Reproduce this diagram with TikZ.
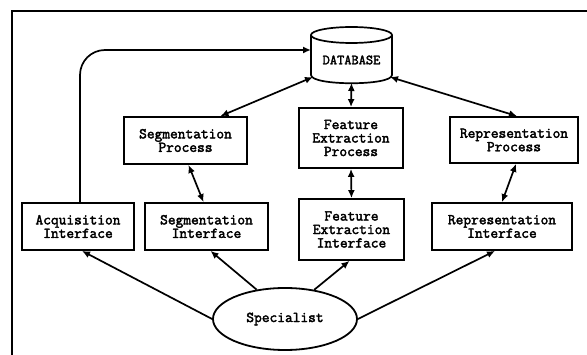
\documentclass[tikz,border=0pt]{standalone}
\usepackage{fontspec}
\setmonofont[AutoFakeBold=2.5]{Latin Modern Mono}
\usetikzlibrary{arrows.meta,shapes.geometric}
\begin{document}
\begin{tikzpicture}[x=1pt,y=-1pt,
  every node/.style={font=\fontsize{15pt}{13.5pt}\selectfont\ttfamily\bfseries, align=center, inner sep=0pt},
  procbox/.style={draw, line width=1.8pt, rectangle},
  link/.style={line width=1.7pt},
  tip/.style={-{Latex[length=8pt,width=7pt]}},
  both/.style={{Latex[length=8pt,width=7pt]}-{Latex[length=8pt,width=7pt]}}]
\useasboundingbox (0,0) rectangle (587,355);
% outer frame (top and left edges)
\draw[line width=1.4pt] (12,355) -- (12,11) -- (587,11);

% database cylinder
\draw[line width=1.7pt] (351.5,35) ellipse [x radius=40.5, y radius=8];
\draw[line width=1.7pt] (311,35) -- (311,75) .. controls (311,86) and (392,86) .. (392,75) -- (392,35);
\node[font=\fontsize{14pt}{14pt}\selectfont\ttfamily\bfseries] (db) at (351.5,60) {DATABASE};
\coordinate (dbL) at (311,50);
\coordinate (dbSW) at (313,77);
\coordinate (dbS) at (351.5,83);
\coordinate (dbSE) at (390,77);

% process boxes
\node[procbox, minimum width=123, minimum height=47] (segp) at (185.5,140.5) {Segmentation\\Process};
\node[procbox, minimum width=104, minimum height=60] (fep) at (351,138) {Feature\\Extraction\\Process};
\node[procbox, minimum width=128, minimum height=46] (repp) at (514,140) {Representation\\Process};

% interface boxes
\node[procbox, minimum width=112, minimum height=47] (acqi) at (78,226.5) {Acquisition\\Interface};
\node[procbox, minimum width=123, minimum height=47] (segi) at (206.5,226.5) {Segmentation\\Interface};
\node[procbox, minimum width=105, minimum height=61] (fei) at (351.5,229.5) {Feature\\Extraction\\Interface};
\node[procbox, minimum width=140, minimum height=47] (repi) at (502,226.5) {Representation\\Interface};

% user
\node[ellipse, draw, line width=1.8pt, minimum width=144, minimum height=62] (spec) at (285,319) {Specialist};

% acquisition feeds the database directly
\draw[link, tip, rounded corners=25pt] ([xshift=2pt]acqi.north) |- (dbL);

% database <-> processes
\draw[link, both] (dbSW) -- ([xshift=35pt]segp.north);
\draw[link, both] (dbS) -- (fep.north);
\draw[link, both] (dbSE) -- ([xshift=3pt]repp.north);

% processes <-> interfaces
\draw[link, both] ([xshift=3pt]segp.south) -- ([xshift=-3pt]segi.north);
\draw[link, both] (fep.south) -- (fei.north);
\draw[link, both] ([xshift=2pt]repp.south) -- (repi.north);

% specialist -> interfaces
\draw[link, tip] (spec.west) -- ([xshift=4pt]acqi.south);
\draw[link, tip] (spec.134) -- ([xshift=4pt]segi.south);
\draw[link, tip] (spec.45) -- ([xshift=-2pt]fei.south);
\draw[link, tip] (spec.east) -- ([xshift=-7pt]repi.south);
\end{tikzpicture}
\end{document}
